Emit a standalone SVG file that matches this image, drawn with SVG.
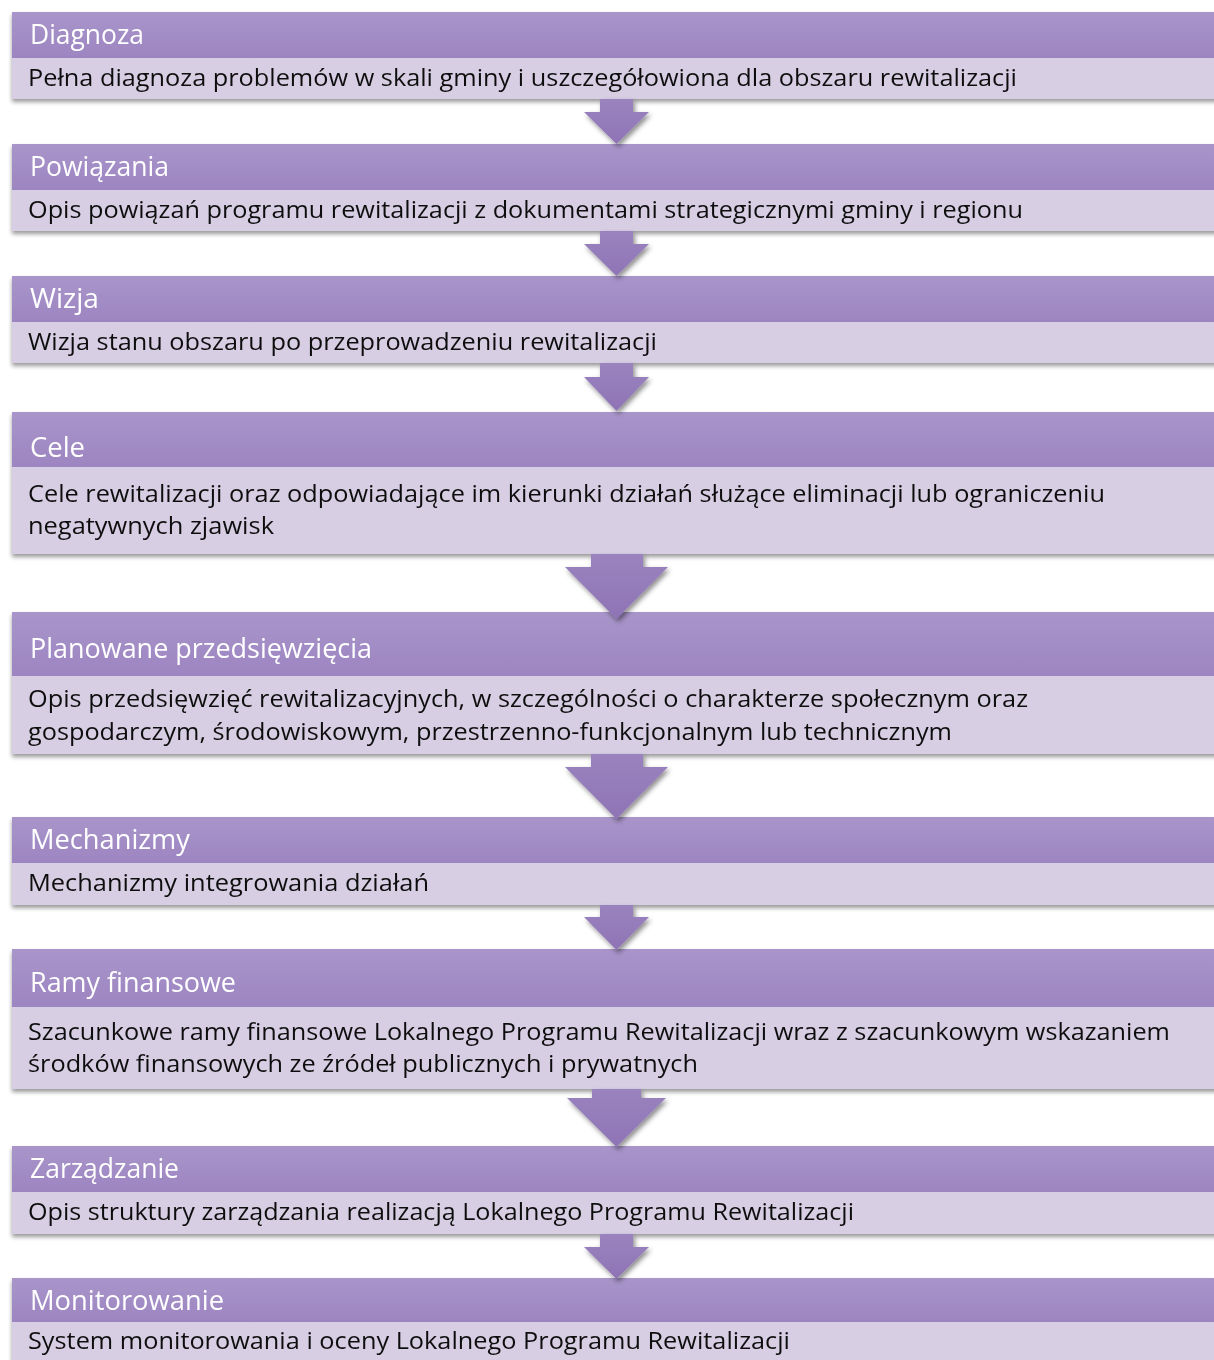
<svg xmlns="http://www.w3.org/2000/svg" width="1214" height="1360" viewBox="0 0 1214 1360">
<defs>
<linearGradient id="hg" x1="0" y1="0" x2="0" y2="1">
<stop offset="0" stop-color="#a995ca"/>
<stop offset="1" stop-color="#9d85c1"/>
</linearGradient>
<linearGradient id="ag" x1="0" y1="0" x2="0" y2="1">
<stop offset="0" stop-color="#9a83bf"/>
<stop offset="1" stop-color="#8f74b5"/>
</linearGradient>
<filter id="bs" x="-5%" y="-20%" width="110%" height="150%">
<feDropShadow dx="0" dy="3" stdDeviation="2" flood-color="#000" flood-opacity="0.4"/>
</filter>
<filter id="as" x="-30%" y="-30%" width="160%" height="160%">
<feDropShadow dx="2" dy="3" stdDeviation="2.5" flood-color="#000" flood-opacity="0.45"/>
</filter>
</defs>
<style>
.hd{fill:url(#hg)}
.bd{fill:#d7cee4}
.ht{font-family:"Open Sans","Noto Sans",sans-serif;font-size:27px;fill:#ffffff}
.bt{font-family:"Open Sans","Noto Sans",sans-serif;font-size:23px;fill:#111111}
.ar{fill:url(#ag);filter:url(#as)}
</style>
<rect width="1214" height="1360" fill="#ffffff"/>
<g id="nodes">
<g id="n1" filter="url(#bs)">
<rect class="bd" x="12" y="58" width="1210" height="41"/>
<rect class="hd" x="12" y="12" width="1210" height="46"/>
<text class="ht" x="30" y="44" textLength="114" lengthAdjust="spacingAndGlyphs">Diagnoza</text>
<text class="bt" x="28" y="86" textLength="989" lengthAdjust="spacingAndGlyphs">Pełna diagnoza problemów w skali gminy i uszczegółowiona dla obszaru rewitalizacji</text>
</g>
<g id="n2" filter="url(#bs)">
<rect class="bd" x="12" y="190" width="1210" height="41"/>
<rect class="hd" x="12" y="144" width="1210" height="46"/>
<text class="ht" x="30" y="176" textLength="139" lengthAdjust="spacingAndGlyphs">Powiązania</text>
<text class="bt" x="28" y="218" textLength="995" lengthAdjust="spacingAndGlyphs">Opis powiązań programu rewitalizacji z dokumentami strategicznymi gminy i regionu</text>
</g>
<g id="n3" filter="url(#bs)">
<rect class="bd" x="12" y="322" width="1210" height="41"/>
<rect class="hd" x="12" y="276" width="1210" height="46"/>
<text class="ht" x="30" y="308" textLength="69" lengthAdjust="spacingAndGlyphs">Wizja</text>
<text class="bt" x="28" y="350" textLength="629" lengthAdjust="spacingAndGlyphs">Wizja stanu obszaru po przeprowadzeniu rewitalizacji</text>
</g>
<g id="n4" filter="url(#bs)">
<rect class="bd" x="12" y="467" width="1210" height="87"/>
<rect class="hd" x="12" y="412" width="1210" height="55"/>
<text class="ht" x="30" y="457" textLength="55" lengthAdjust="spacingAndGlyphs">Cele</text>
<text class="bt" x="28" y="502" textLength="1077" lengthAdjust="spacingAndGlyphs">Cele rewitalizacji oraz odpowiadające im kierunki działań służące eliminacji lub ograniczeniu</text>
<text class="bt" x="28" y="534" textLength="246" lengthAdjust="spacingAndGlyphs">negatywnych zjawisk</text>
</g>
<g id="n5" filter="url(#bs)">
<rect class="bd" x="12" y="676" width="1210" height="78"/>
<rect class="hd" x="12" y="612" width="1210" height="64"/>
<text class="ht" x="30" y="658" textLength="342" lengthAdjust="spacingAndGlyphs">Planowane przedsięwzięcia</text>
<text class="bt" x="28" y="707" textLength="1000" lengthAdjust="spacingAndGlyphs">Opis przedsięwzięć rewitalizacyjnych, w szczególności o charakterze społecznym oraz</text>
<text class="bt" x="28" y="740" textLength="924" lengthAdjust="spacingAndGlyphs">gospodarczym, środowiskowym, przestrzenno-funkcjonalnym lub technicznym</text>
</g>
<g id="n6" filter="url(#bs)">
<rect class="bd" x="12" y="863" width="1210" height="42"/>
<rect class="hd" x="12" y="817" width="1210" height="46"/>
<text class="ht" x="30" y="849" textLength="160" lengthAdjust="spacingAndGlyphs">Mechanizmy</text>
<text class="bt" x="28" y="891" textLength="401" lengthAdjust="spacingAndGlyphs">Mechanizmy integrowania działań</text>
</g>
<g id="n7" filter="url(#bs)">
<rect class="bd" x="12" y="1007" width="1210" height="82"/>
<rect class="hd" x="12" y="949" width="1210" height="58"/>
<text class="ht" x="30" y="992" textLength="206" lengthAdjust="spacingAndGlyphs">Ramy finansowe</text>
<text class="bt" x="28" y="1040" textLength="1142" lengthAdjust="spacingAndGlyphs">Szacunkowe ramy finansowe Lokalnego Programu Rewitalizacji wraz z szacunkowym wskazaniem</text>
<text class="bt" x="28" y="1072" textLength="670" lengthAdjust="spacingAndGlyphs">środków finansowych ze źródeł publicznych i prywatnych</text>
</g>
<g id="n8" filter="url(#bs)">
<rect class="bd" x="12" y="1192" width="1210" height="42"/>
<rect class="hd" x="12" y="1146" width="1210" height="46"/>
<text class="ht" x="30" y="1178" textLength="149" lengthAdjust="spacingAndGlyphs">Zarządzanie</text>
<text class="bt" x="28" y="1220" textLength="826" lengthAdjust="spacingAndGlyphs">Opis struktury zarządzania realizacją Lokalnego Programu Rewitalizacji</text>
</g>
<g id="n9" filter="url(#bs)">
<rect class="bd" x="12" y="1322" width="1210" height="60"/>
<rect class="hd" x="12" y="1278" width="1210" height="44"/>
<text class="ht" x="30" y="1310" textLength="194" lengthAdjust="spacingAndGlyphs">Monitorowanie</text>
<text class="bt" x="28" y="1349" textLength="762" lengthAdjust="spacingAndGlyphs">System monitorowania i oceny Lokalnego Programu Rewitalizacji</text>
</g>
</g>
<g id="connectors">
<polygon class="ar" points="600,99 633,99 633,112 649,112 616.5,144 584,112 600,112"/>
<polygon class="ar" points="600,231 633,231 633,244 649,244 616.5,276 584,244 600,244"/>
<polygon class="ar" points="600,363 633,363 633,377 649,377 616.5,411 584,377 600,377"/>
<polygon class="ar" points="591,554 643,554 643,567 668,567 616.5,619 565,567 591,567"/>
<polygon class="ar" points="591,754 643,754 643,767 668,767 616.5,819 565,767 591,767"/>
<polygon class="ar" points="600,905 633,905 633,917 649,917 616.5,950 584,917 600,917"/>
<polygon class="ar" points="592,1089 641,1089 641,1098 666,1098 616.5,1147 567,1098 592,1098"/>
<polygon class="ar" points="600,1234 633,1234 633,1247 649,1247 616.5,1279 584,1247 600,1247"/>
</g>
</svg>
